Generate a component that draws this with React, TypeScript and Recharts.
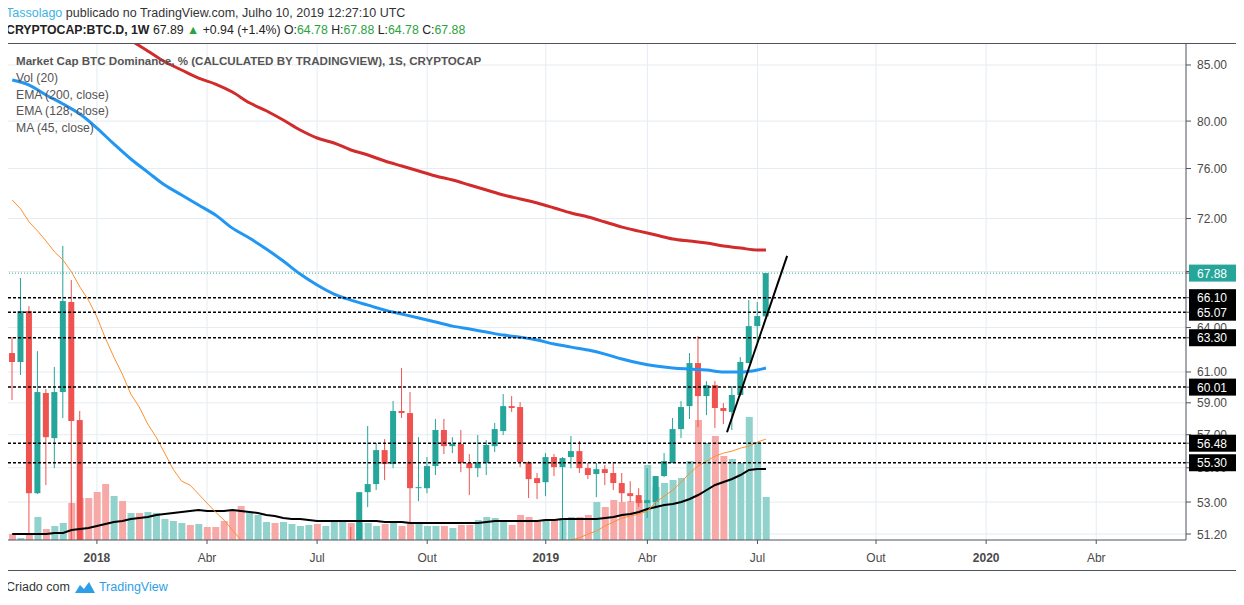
import { Bar, CartesianGrid, Cell, ComposedChart, Line, ReferenceLine, XAxis, YAxis } from "recharts"

// BTC.D weekly candles, first bar = week of 2017-10-23; null = below the visible range
const opens = [
  62.26, 61.66, 65.15, 53.51, 59.63, 56.79, 59.69, 65.79, 57.91,
  null, null, null, null, null, null, null, null, null, null, null, null, null, null, null, null,
  null, null, null, null, null, null, null, null, null, null, null, null, null, null, null,
  50.6, 50.0, 53.57, 54.04, 56.06, 55.22, 58.48, 58.35, 53.8, 53.8, 55.1, 57.29, 56.3, 56.43, 55.28,
  54.98, 55.28, 56.3, 57.23, 58.79, 58.73, 55.34, 54.39, 54.15, 55.64, 55.04, 55.64, 56.0, 54.98,
  54.63, 54.92, 54.69, 54.1, 53.51, 53.4, 52.94, 53.0, 54.51, 55.28, 57.35, 58.79, 61.59, 59.43,
  60.14, 58.67, 58.42, 59.5, 61.59, 64.1, 64.78,
]
const highs = [
  63.34, 67.52, 65.5, 62.39, 59.88, 61.33, 69.9, 67.37, 58.48,
  null, null, null, null, null, null, null, null, null, null, null, null, null, null, null, null,
  null, null, null, null, null, null, null, null, null, null, null, null, null, null, null,
  51.59, 53.57, 57.54, 56.49, 56.73, 59.11, 61.26, 59.69, 56.85, 55.64, 57.98, 57.98, 56.85, 57.29, 55.82,
  56.98, 56.67, 57.73, 59.56, 59.43, 59.05, 55.4, 54.69, 55.88, 55.82, 55.64, 56.92, 56.61, 55.28,
  55.28, 55.16, 55.34, 54.69, 54.21, 53.8, 54.98, 54.51, 55.88, 58.04, 59.11, 62.26, 63.41, 60.4,
  60.4, 58.98, 60.08, 61.99, 65.93, 65.79, 67.88,
]
const lows = [
  59.18, 60.8, 51.14, 53.46, 53.98, 54.98, 58.04, 50.5, 46.0,
  null, null, null, null, null, null, null, null, null, null, null, null, null, null, null, null,
  null, null, null, null, null, null, null, null, null, null, null, null, null, null, null,
  49.6, 49.8, 52.71, 53.69, 54.27, 54.98, 58.04, 51.76, 53.05, 53.51, 54.57, 55.82, 55.88, 54.74, 53.4,
  54.45, 54.57, 55.94, 56.98, 58.42, 55.04, 53.23, 53.17, 53.34, 54.51, 50.5, 54.98, 54.69, 54.33,
  53.28, 53.98, 53.69, 53.0, 53.0, 52.71, 52.09, 52.65, 54.45, 55.28, 56.79, 57.98, 57.48, 58.22,
  57.42, 57.66, 57.29, 59.43, 61.59, 63.0, 64.78,
]
const closes = [
  61.66, 65.15, 53.51, 59.69, 56.85, 59.69, 65.86, 57.85, 47.0,
  null, null, null, null, null, null, null, null, null, null, null, null, null, null, null, null,
  null, null, null, null, null, null, null, null, null, null, null, null, null, null, null,
  50.2, 53.57, 54.04, 56.06, 55.22, 58.48, 58.35, 53.8, 53.86, 55.1, 57.29, 56.3, 56.43, 55.28, 54.98,
  55.34, 56.37, 57.35, 58.79, 58.67, 55.34, 54.33, 54.1, 55.64, 55.04, 55.58, 56.0, 54.98, 54.57,
  54.92, 54.69, 54.1, 53.51, 53.34, 52.94, 53.11, 54.51, 55.4, 57.35, 58.73, 61.59, 59.43, 60.14,
  58.67, 58.48, 59.5, 61.66, 64.1, 64.8, 67.88,
]

// volume (relative units) and its direction, 1 = up week
const volumes = [
  6, 2, 5, 23, 11, 14, 17, 37, 42, 42, 48, 56, 44, 39, 27, 27, 28, 27, 21, 19,
  17, 15, 16, 13, 13, 19, 29, 34, 27, 25, 18, 17, 18, 16, 14, 15, 16, 14, 18, 18,
  17, 17, 17, 14, 16, 17, 14, 17, 16, 14, 14, 14, 12, 15, 15, 20, 23, 22, 20, 15,
  25, 23, 18, 21, 21, 22, 23, 23, 25, 38, 33, 40, 38, 39, 40, 75, 53, 57, 60, 62,
  79, 120, 97, 104, 84, 81, 77, 123, 98, 43,
]
const volumeUp = [
  0, 1, 0, 1, 0, 1, 1, 0, 0, 0, 0, 0, 1, 0, 1, 0, 1, 1, 1, 1,
  1, 0, 1, 0, 0, 0, 0, 0, 1, 1, 1, 0, 1, 1, 1, 1, 0, 1, 1, 1,
  0, 1, 1, 1, 0, 1, 0, 0, 1, 1, 1, 0, 1, 0, 0, 1, 1, 1, 1, 0,
  0, 0, 0, 1, 0, 1, 1, 0, 0, 1, 0, 0, 0, 0, 0, 1, 1, 1, 1, 1,
  1, 0, 1, 0, 0, 1, 1, 1, 1, 1,
]
const volumeMa = [
  6, 6, 6, 6, 6, 7, 7, 10, 11, 12, 14, 16, 18, 19, 21, 22, 23, 25, 26, 27,
  28, 29, 30, 29, 29, 29, 30, 29, 28, 27, 25, 24, 22, 21, 21, 20, 19, 19, 19, 19,
  19, 19, 19, 19, 18, 18, 18, 17, 17, 17, 17, 17, 17, 17, 17, 17, 18, 19, 19, 19,
  19, 19, 19, 20, 20, 21, 21, 21, 21, 21, 22, 23, 25, 26, 28, 31, 33, 35, 36, 38,
  41, 45, 50, 55, 58, 61, 65, 70, 71, 71,
]

// MA (45, close), null where it runs below the pane
const ma45 = [
  73.46, 72.75, 71.73, 71.03, 70.27, 69.45, 68.84, 67.96, 66.86, 65.93, 64.73, 63.27, 61.99, 60.86,
  59.56, 58.73, 57.66, 56.85, 55.88, 54.92, 54.21, 53.98, 53.46, 52.94, 52.43, 51.98, 51.42, 50.87, 50.2,
  null, null, null, null, null, null, null, null, null, null, null, null, null, null, null, null, null, null,
  null, null, null, null, null, null, null, null, null, null, null, null, null, null, null, null, null, null,
  50.5, 50.87, 51.0, 51.2, 51.37, 51.65, 51.87, 52.09, 52.2, 52.32, 52.48, 53.0, 53.34, 53.69, 54.15,
  54.69, 55.1, 55.4, 55.7, 55.88, 56.0, 56.18, 56.3, 56.55, 56.73, 56.92,
]

// EMA readings as [week, value]
const ema200 = [
  [12, 88.4], [14, 87.3], [16, 86.3], [18, 85.3], [20, 84.54], [22, 83.8], [24, 83.27], [26, 82.55],
  [28, 81.6], [30, 80.9], [32, 80.09], [34, 79.23], [36, 78.55], [38, 78.13], [40, 77.54], [42, 77.12],
  [44, 76.62], [46, 76.21], [48, 75.8], [50, 75.39], [52, 75.06], [54, 74.66], [56, 74.26], [58, 73.86],
  [60, 73.54], [62, 73.22], [64, 72.83], [66, 72.43], [68, 72.12], [70, 71.73], [72, 71.34], [74, 71.03],
  [76, 70.73], [78, 70.43], [80, 70.27], [82, 70.12], [84, 69.89], [86, 69.74], [88, 69.59], [89, 69.59],
]
const ema128 = [
  [0, 83.63], [2, 83.18], [4, 82.29], [6, 81.49], [8, 80.61], [10, 79.4], [12, 78.05], [14, 76.79],
  [16, 75.71], [18, 74.66], [20, 73.86], [22, 73.06], [24, 72.28], [26, 71.26], [28, 70.5], [30, 69.67],
  [32, 68.77], [34, 67.81], [36, 67.01], [38, 66.36], [40, 65.93], [42, 65.57], [44, 65.22], [46, 64.94],
  [48, 64.66], [50, 64.38], [52, 64.1], [54, 63.9], [56, 63.69], [58, 63.48], [60, 63.34], [62, 63.14],
  [64, 62.87], [66, 62.66], [68, 62.46], [70, 62.19], [72, 61.86], [74, 61.59], [76, 61.39], [78, 61.26],
  [80, 61.19], [82, 61.13], [84, 60.99], [86, 60.99], [88, 61.13], [89, 61.26],
]

const levels = [66.1, 65.07, 63.3, 60.01, 56.48, 55.3]
const lastClose = 67.88
const trendLine = [{ i: 84.4, v: 57.15 }, { i: 91.5, v: 69.15 }]

const priceTicks = [51.2, 53, 55, 57, 59, 61, 64, 68, 72, 76, 80, 85]
const monthTicks = [10, 23, 36, 49, 63, 75, 88, 102, 115, 128]
const monthLabels = ["2018", "Abr", "Jul", "Out", "2019", "Abr", "Jul", "Out", "2020", "Abr"]

const UP = "#26a69a"
const DOWN = "#ef5350"
const FONT = '"Liberation Sans", Arial, sans-serif'
const X_DOMAIN = [-0.5, 138.6]

const rows = opens.map((o, i) => ({
  i,
  o,
  h: highs[i],
  l: lows[i],
  c: closes[i],
  volume: volumes[i],
  up: volumeUp[i] === 1,
  volMa: volumeMa[i],
  ma45: ma45[i],
  ema200: null as number | null,
  ema128: null as number | null,
}))
ema200.forEach(([i, v]) => (rows[i].ema200 = v))
ema128.forEach(([i, v]) => (rows[i].ema128 = v))

function Candle(props: any) {
  const { x, y, width, height, payload } = props
  if (payload.o == null || !Number.isFinite(y) || !Number.isFinite(height)) return <g />
  const top = Math.min(y, y + height)
  const span = Math.abs(height)
  const lnH = Math.log(payload.h)
  const lnL = Math.log(payload.l)
  const at = (v: number) => top + ((lnH - Math.log(v)) / (lnH - lnL)) * span
  const cx = x + width / 2
  const color = payload.c >= payload.o ? UP : DOWN
  const bTop = at(Math.max(payload.o, payload.c))
  const bBot = at(Math.min(payload.o, payload.c))
  return (
    <g>
      <line x1={cx} x2={cx} y1={top} y2={top + span} stroke={color} strokeWidth={1} />
      <rect x={cx - 3} y={bTop} width={6} height={Math.max(1, bBot - bTop)} fill={color} />
    </g>
  )
}

// price axis labels; level tags come last in the tick list so they sit on top
function PriceTick({ x, y, payload }: any) {
  const v = payload.value
  const isTag = v === lastClose || levels.includes(v)
  if (!isTag) {
    return (
      <text x={x} y={y + 4.5} fontSize={12} fill="#4a4a4a" fontFamily={FONT}>
        {v.toFixed(2)}
      </text>
    )
  }
  return (
    <g>
      <rect x={x - 8} y={y - 8.5} width={48} height={17} fill={v === lastClose ? UP : "#000"} />
      <text x={x} y={y + 4.5} fill="#fff" fontSize={12} fontFamily={FONT}>
        {v.toFixed(2)}
      </text>
    </g>
  )
}

function MonthTick({ x, y, payload }: any) {
  const label = monthLabels[monthTicks.indexOf(payload.value)]
  const bold = /^\d{4}$/.test(label)
  return (
    <text x={x} y={y + 16} textAnchor="middle" fontSize={12} fill="#4a4a4a" fontWeight={bold ? "bold" : "normal"} fontFamily={FONT}>
      {label}
    </text>
  )
}

const legendRows = ["Vol (20)", "EMA (200, close)", "EMA (128, close)", "MA (45, close)"]

export default function App() {
  const green = "#2aa33c"
  return (
    <div style={{ position: "relative", width: 1244, height: 605, margin: -8, background: "#fff", fontFamily: FONT, overflow: "hidden" }}>
      <div style={{ position: "absolute", left: 6, top: 5, fontSize: 12.5, lineHeight: "16px", color: "#333", whiteSpace: "nowrap" }}>
        <span style={{ color: "#3bb3e4" }}>Tassolago</span> publicado no TradingView.com, Julho 10, 2019 12:27:10 UTC
      </div>
      <div style={{ position: "absolute", left: 6, top: 22, fontSize: 12.3, lineHeight: "16px", color: "#222", whiteSpace: "nowrap" }}>
        <b>CRYPTOCAP:BTC.D, 1W</b> 67.89 <span style={{ color: green }}>▲</span> +0.94 (+1.4%) O:<span style={{ color: green }}>64.78</span> H:
        <span style={{ color: green }}>67.88</span> L:<span style={{ color: green }}>64.78</span> C:<span style={{ color: green }}>67.88</span>
      </div>

      <div style={{ position: "absolute", left: 7, top: 43, width: 1231, height: 528, border: "1px solid #50535e", boxSizing: "border-box" }}>
        <ComposedChart width={1229} height={526} data={rows} margin={{ top: 0, right: 0, bottom: 0, left: 0 }}>
          <CartesianGrid stroke="#e5ecf2" horizontalValues={priceTicks} verticalValues={monthTicks} />
          <XAxis
            dataKey="i"
            type="number"
            domain={X_DOMAIN}
            allowDataOverflow
            ticks={monthTicks}
            interval={0}
            height={30}
            tick={<MonthTick />}
            tickSize={4}
            stroke="#50535e"
          />
          <XAxis xAxisId="v" dataKey="i" type="number" domain={X_DOMAIN} allowDataOverflow hide />
          <YAxis
            orientation="right"
            scale="log"
            type="number"
            domain={[50.87, 86.95]}
            allowDataOverflow
            ticks={[...priceTicks, lastClose, ...levels]}
            interval={0}
            width={51}
            tickSize={5}
            tickMargin={6}
            tick={<PriceTick />}
            stroke="#50535e"
          />
          <YAxis yAxisId="v" type="number" domain={[0, 496]} allowDataOverflow hide />

          <Bar xAxisId="v" yAxisId="v" dataKey="volume" barSize={7} isAnimationActive={false}>
            {rows.map((r) => (
              <Cell key={r.i} fill={r.up ? "#92d2cc" : "#f7a9a7"} />
            ))}
          </Bar>
          <Line xAxisId="v" yAxisId="v" dataKey="volMa" stroke="#000" strokeWidth={2} dot={false} isAnimationActive={false} />

          <Bar dataKey={(d: any) => (d.o == null ? null : [d.l, d.h])} barSize={6} shape={<Candle />} isAnimationActive={false} />

          <Line dataKey="ma45" stroke="#ff9030" strokeWidth={1} dot={false} isAnimationActive={false} />
          <Line dataKey="ema128" type="monotone" connectNulls stroke="#2196f3" strokeWidth={3} dot={false} isAnimationActive={false} />
          <Line dataKey="ema200" type="monotone" connectNulls stroke="#d12b2b" strokeWidth={3} dot={false} isAnimationActive={false} />

          <ReferenceLine y={lastClose} stroke={UP} strokeDasharray="1 2" />
          {levels.map((v) => (
            <ReferenceLine key={v} y={v} stroke="#000" strokeWidth={1.5} strokeDasharray="3 2" />
          ))}
          <ReferenceLine
            segment={trendLine.map((p) => ({ x: p.i, y: p.v }))}
            stroke="#000"
            strokeWidth={2}
            ifOverflow="visible"
          />
        </ComposedChart>
      </div>

      <div style={{ position: "absolute", left: 16, top: 53, fontSize: 11.6, lineHeight: "16px", color: "#555", fontWeight: "bold", whiteSpace: "nowrap" }}>
        Market Cap BTC Dominance, % (CALCULATED BY TRADINGVIEW), 1S, CRYPTOCAP
      </div>
      {legendRows.map((t, k) => (
        <div key={t} style={{ position: "absolute", left: 16, top: 70 + k * 16.7, fontSize: 12.2, lineHeight: "16px", color: "#555", whiteSpace: "nowrap" }}>
          {t}
        </div>
      ))}

      <div style={{ position: "absolute", left: 6, top: 579, fontSize: 12.5, lineHeight: "16px", color: "#333", whiteSpace: "nowrap", display: "flex", alignItems: "center" }}>
        Criado com
        <svg width="22" height="14" viewBox="0 0 22 14" style={{ margin: "0 3px 0 4px" }}>
          <path d="M1 13 L6 5 L10 9 L15 2 L21 13 Z" fill="#2e9ee6" />
        </svg>
        <span style={{ color: "#2e9ee6" }}>TradingView</span>
      </div>
    </div>
  )
}
